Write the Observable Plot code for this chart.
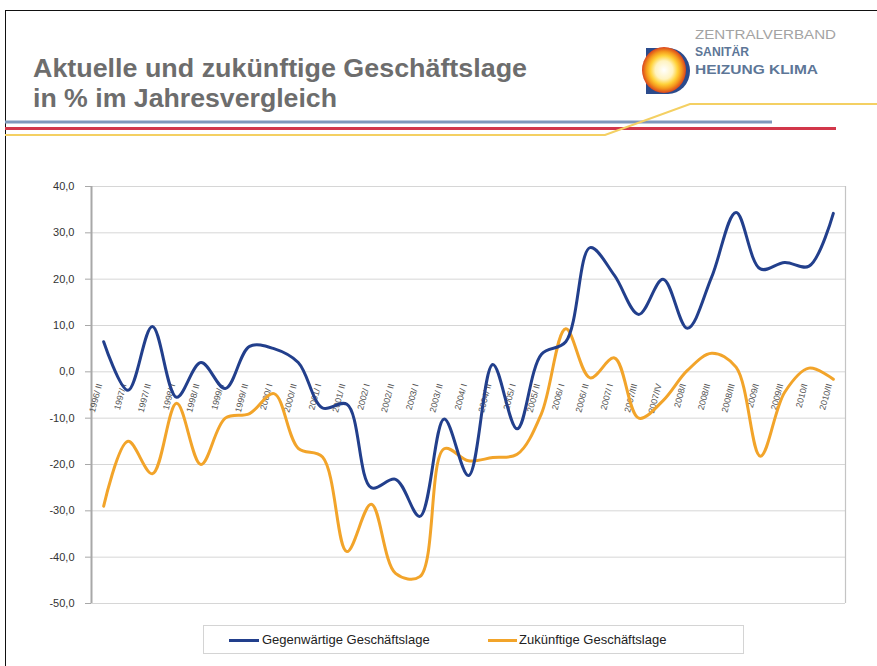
<!DOCTYPE html>
<html><head><meta charset="utf-8">
<script src="https://cdn.jsdelivr.net/npm/d3@7"></script>
<script src="https://cdn.jsdelivr.net/npm/@observablehq/plot@0.6"></script>
<style>
body{margin:0;background:#fff;font-family:"Liberation Sans",Arial,sans-serif;}
#page{position:relative;width:877px;height:666px;overflow:hidden;background:#fff;}
#frame{position:absolute;left:5px;top:10px;width:880px;height:670px;border-top:1.5px solid #111;border-left:1.5px solid #111;}
#deco{position:absolute;left:0;top:0;}
#chart{position:absolute;left:0;top:170px;}
#legend{position:absolute;left:203px;top:625px;width:541px;height:29px;border:1px solid #d4d4d4;box-sizing:border-box;}
.lg{position:absolute;top:6px;font-size:13px;color:#222;white-space:nowrap;}
.sw{position:absolute;top:13px;height:3px;}
</style></head><body>
<div id="page">
<div id="frame"></div>
<svg id="deco" width="877" height="170">
  <defs>
    <radialGradient id="sun" cx="50%" cy="50%" r="50%">
      <stop offset="0%" stop-color="#ffffff"/>
      <stop offset="40%" stop-color="#fff3c0"/>
      <stop offset="62%" stop-color="#ffd23a"/>
      <stop offset="80%" stop-color="#f59a1c"/>
      <stop offset="100%" stop-color="#d9441e"/>
    </radialGradient>
  </defs>
  <text x="33" y="77" font-family="Liberation Sans, Arial, sans-serif" font-weight="bold" font-size="25" fill="#6d6d6d" textLength="494" lengthAdjust="spacingAndGlyphs">Aktuelle und zukünftige Geschäftslage</text>
  <text x="33" y="107" font-family="Liberation Sans, Arial, sans-serif" font-weight="bold" font-size="25" fill="#6d6d6d" textLength="304" lengthAdjust="spacingAndGlyphs">in % im Jahresvergleich</text>
  <path d="M646,48 L668,48 A22,23 0 0 1 668,94 L646,94 Z" fill="#2b4b8c"/>
  <ellipse cx="664" cy="70" rx="22" ry="23" fill="url(#sun)"/>
  <text x="695" y="39" font-family="Liberation Sans, Arial, sans-serif" font-size="13" fill="#a3a3a3" textLength="141" lengthAdjust="spacingAndGlyphs">ZENTRALVERBAND</text>
  <text x="695" y="56" font-family="Liberation Sans, Arial, sans-serif" font-weight="bold" font-size="13" fill="#5d7697" textLength="54" lengthAdjust="spacingAndGlyphs">SANITÄR</text>
  <text x="695" y="74" font-family="Liberation Sans, Arial, sans-serif" font-weight="bold" font-size="13" fill="#5d7697" textLength="123" lengthAdjust="spacingAndGlyphs">HEIZUNG KLIMA</text>
  <line x1="5" y1="122" x2="772" y2="122" stroke="#7e98bb" stroke-width="3"/>
  <line x1="5" y1="128.5" x2="836" y2="128.5" stroke="#d2374a" stroke-width="3"/>
  <polyline points="5,135 605,135 690,104 877,104" fill="none" stroke="#f4d063" stroke-width="2.2"/>
</svg>
<div id="chart"></div>
<div id="legend">
  <div class="sw" style="left:25px;width:30px;background:#223f8c"></div>
  <div class="lg" style="left:58px">Gegenwärtige Geschäftslage</div>
  <div class="sw" style="left:284px;width:29px;background:#f2a42a"></div>
  <div class="lg" style="left:315px">Zukünftige Geschäftslage</div>
</div>
</div>
<script>
const periods = ["1996/ II","1997/ I","1997/ II","1998/ I","1998/ II","1999/ I","1999/ II","2000/ I","2000/ II","2001/ I","2001/ II","2002/ I","2002/ II","2003/ I","2003/ II","2004/ I","2004/ II","2005/ I","2005/ II","2006/ I","2006/ II","2007/ I","2007/III","2007/IV","2008/I","2008/II","2008/III","2009/I","2009/II","2010/I","2010/II"];
const current = [6.5, -4.0, 9.8, -5.5, 2.0, -3.6, 5.5, 5.0, 2.0, -7.8, -7.0, -25.0, -23.2, -31.2, -10.2, -22.4, 1.6, -12.3, 3.8, 6.5, 26.8, 20.8, 12.4, 20.0, 9.4, 20.5, 34.4, 22.2, 23.6, 22.8, 34.2];
const future = [-29.0, -15.0, -22.0, -6.8, -20.0, -10.0, -9.0, -4.7, -16.5, -18.4, -38.8, -28.6, -43.5, -44.2, -16.6, -19.2, -18.5, -17.8, -9.0, 9.3, -1.3, 3.0, -10.0, -6.2, 0.3, 4.0, 1.0, -18.2, -4.4, 0.8, -1.6];
const yTicks = [-50, -40, -30, -20, -10, 0, 10, 20, 30, 40];

const data = periods.map((p, i) => ({i, p, current: current[i], future: future[i]}));
const fmt = d => d.toFixed(1).replace(".", ",");

const chart = Plot.plot({
  width: 877, height: 443,
  marginLeft: 91, marginRight: 32, marginTop: 16, marginBottom: 10,
  style: {fontFamily: "Liberation Sans, Arial, sans-serif", background: "transparent", overflow: "visible"},
  x: {type: "linear", domain: [-0.5, periods.length - 0.5], axis: null},
  y: {domain: [-50, 40], label: null},
  marks: [
    Plot.ruleY(yTicks, {stroke: "#d6d6d6", strokeWidth: 1}),
    Plot.ruleX([periods.length - 0.5], {stroke: "#c4c4c4", strokeWidth: 1.2}),
    Plot.ruleX([-0.5], {stroke: "#a8a8a8", strokeWidth: 2}),
    Plot.axisY({ticks: yTicks, tickFormat: fmt, tickSize: 6, tickPadding: 11, fontSize: 11, fill: "#333", stroke: "#a8a8a8", label: null}),
    Plot.text(data, {x: "i", y: () => 0, text: "p", rotate: -75, textAnchor: "end", dx: -4, dy: 12, fontSize: 8.8, fill: "#555"}),
    Plot.lineY(data, {x: "i", y: "future", stroke: "#f2a42a", strokeWidth: 3, curve: "catmull-rom"}),
    Plot.lineY(data, {x: "i", y: "current", stroke: "#223f8c", strokeWidth: 3, curve: "catmull-rom"})
  ]
});
document.getElementById("chart").appendChild(chart);
</script>
</body></html>
